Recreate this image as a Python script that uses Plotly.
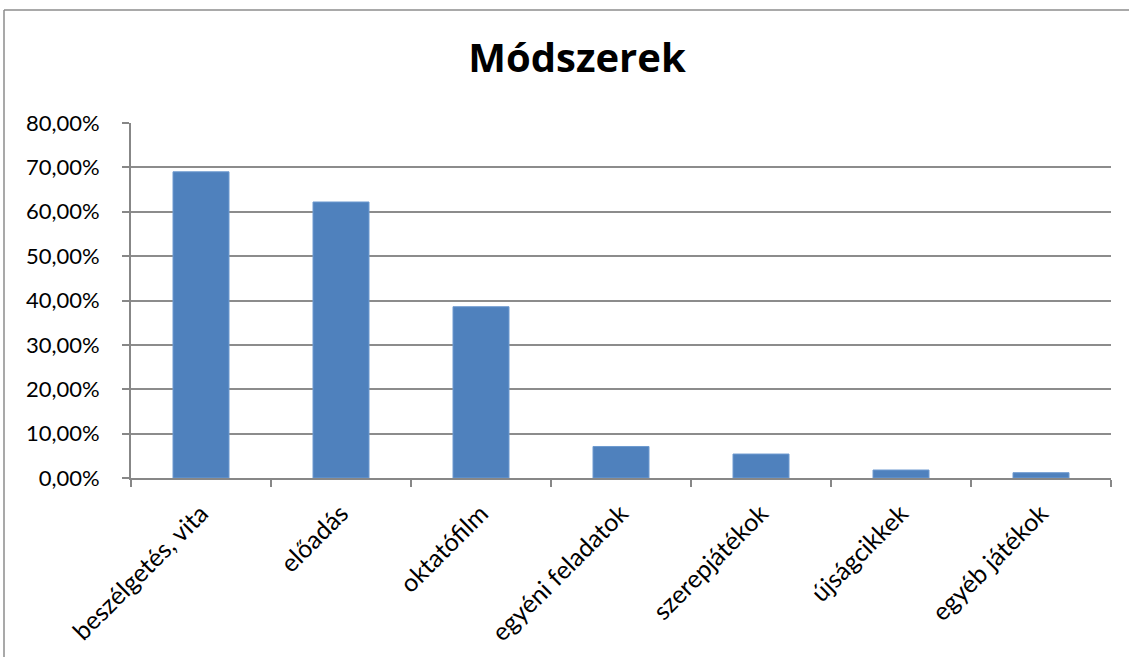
import plotly.graph_objects as go

categories = ["beszélgetés, vita", "előadás", "oktatófilm", "egyéni feladatok",
              "szerepjátékok", "újságcikkek", "egyéb játékok"]
values = [69.0, 62.2, 38.6, 7.1, 5.4, 1.8, 1.2]
ytick_vals = [0, 10, 20, 30, 40, 50, 60, 70, 80]
ytick_text = ["0,00%", "10,00%", "20,00%", "30,00%", "40,00%", "50,00%", "60,00%", "70,00%", "80,00%"]

W, H = 1129, 657
L, R, T, B = 131, 18, 123, 179
pw, ph = W - L - R, H - T - B

fig = go.Figure(go.Bar(x=categories, y=values, width=0.4,
                       marker=dict(color="#4F81BD", line=dict(color="#6E9AD0", width=1))))

def px(x):
    return (x - L) / pw

def py(y):
    return (H - B - y) / ph

border = dict(color="#8C8C8C", width=1.5)

fig.update_layout(
    width=W, height=H,
    margin=dict(l=L, r=R, t=T, b=B, autoexpand=False),
    paper_bgcolor="white", plot_bgcolor="white",
    showlegend=False,
    title=dict(text="<b>Módszerek</b>", x=577 / W, xref="container", xanchor="center",
               y=1 - 58 / H, yanchor="middle",
               font=dict(family="Open Sans, Lato, sans-serif", size=40, color="black")),
    font=dict(family="Lato, Open Sans, sans-serif", size=22, color="black"),
    xaxis=dict(showgrid=False, showline=True, linecolor="#878787", linewidth=2,
               ticks="outside", tickson="boundaries", ticklen=7, tickwidth=1.5, tickcolor="#878787",
               tickangle=-45, tickfont=dict(size=25), ticklabelstandoff=9),
    yaxis=dict(range=[0, 80], tickvals=ytick_vals, ticktext=ytick_text,
               showgrid=True, gridcolor="#8C8C8C", gridwidth=1.5,
               showline=True, linecolor="#878787", linewidth=2,
               ticks="outside", ticklen=7, tickwidth=1.5, tickcolor="#878787",
               tickfont=dict(size=22), zeroline=False, ticklabelstandoff=18),
    shapes=[
        dict(type="line", xref="paper", yref="paper",
             x0=px(4), x1=px(1135), y0=py(10), y1=py(10), line=border, layer="below"),
        dict(type="line", xref="paper", yref="paper",
             x0=px(4), x1=px(4), y0=py(10), y1=py(665), line=border, layer="below"),
    ],
)

fig.write_html("out.html", config={"displayModeBar": False},
               post_script="document.body.style.margin='0';document.body.style.overflow='hidden';")
